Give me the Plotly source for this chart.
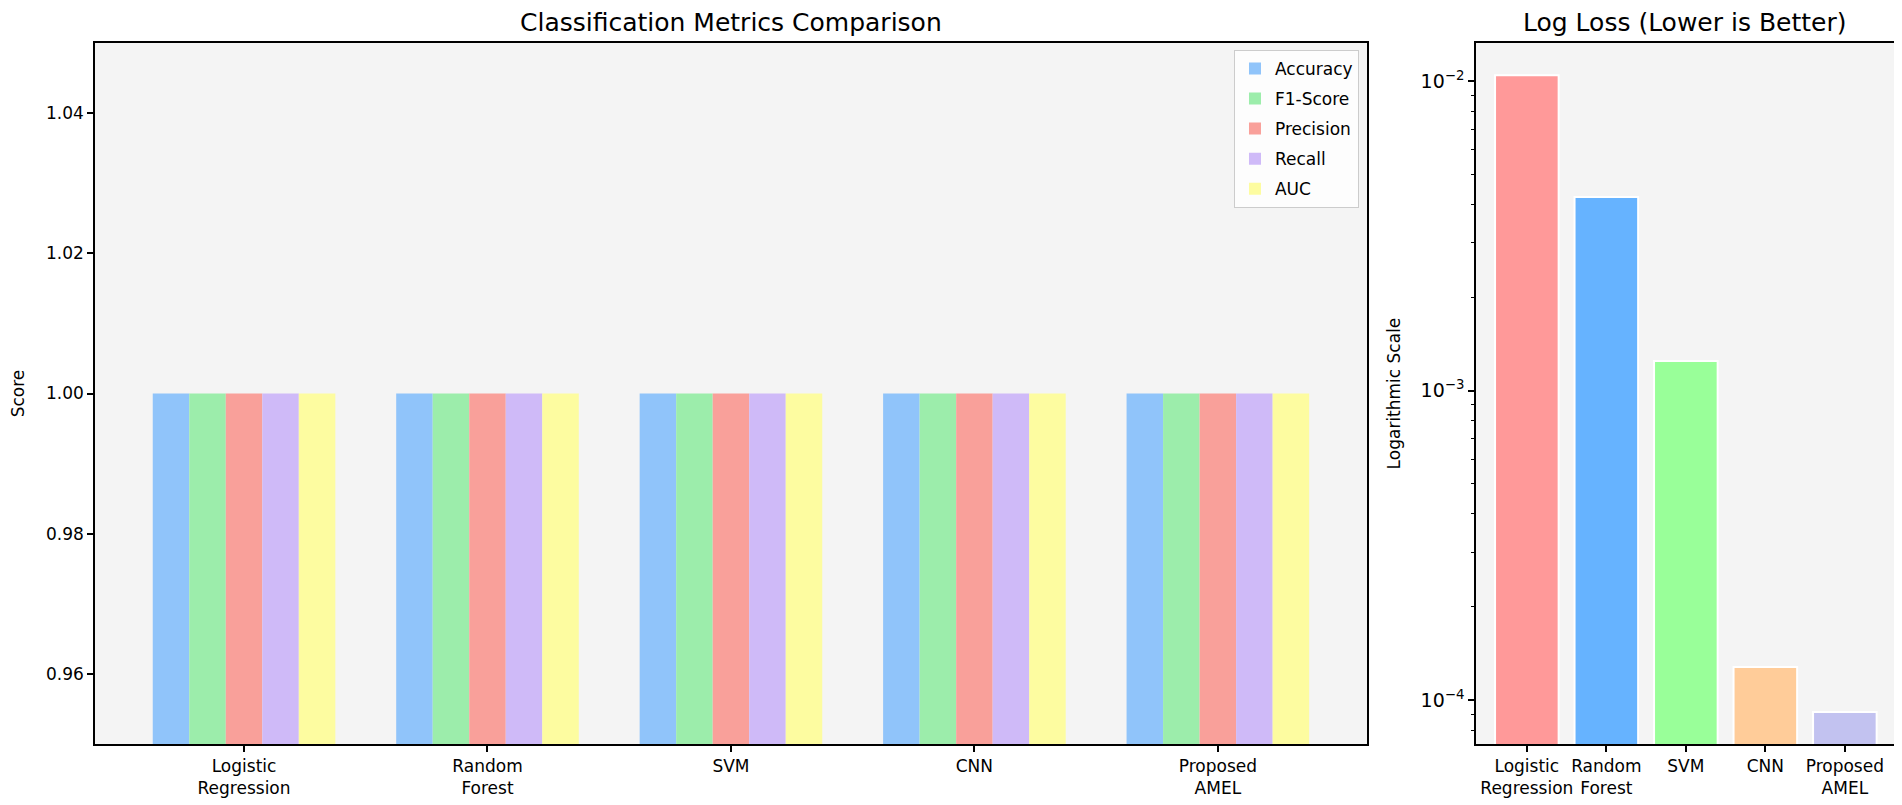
import plotly.graph_objects as go

models = ["Logistic<br>Regression", "Random<br>Forest", "SVM", "CNN", "Proposed<br>AMEL"]
metrics = ["Accuracy", "F1-Score", "Precision", "Recall", "AUC"]
accuracy = [1.0, 1.0, 1.0, 1.0, 1.0]
f1_score = [1.0, 1.0, 1.0, 1.0, 1.0]
precision = [1.0, 1.0, 1.0, 1.0, 1.0]
recall = [1.0, 1.0, 1.0, 1.0, 1.0]
auc = [1.0, 1.0, 1.0, 1.0, 1.0]
log_loss = [0.01045, 0.00422, 0.001245, 0.000128, 0.0000915]

metric_values = [accuracy, f1_score, precision, recall, auc]
metric_colors = ["#90c4fa", "#9cedab", "#f9a09a", "#cfbaf8", "#fdfca0"]
loss_colors = ["#ff9999", "#66b3ff", "#99ff99", "#ffcc99", "#c2c2f0"]

FONT = "DejaVu Sans"
TICK = 17
fig = go.Figure()

for name, vals, col in zip(metrics, metric_values, metric_colors):
    fig.add_trace(go.Bar(
        x=list(range(len(models))), y=vals, name=name, legendgroup=name,
        marker=dict(color=col, line=dict(width=0)),
        xaxis="x", yaxis="y",
    ))

fig.add_trace(go.Bar(
    x=list(range(len(models))), y=log_loss, showlegend=False,
    marker=dict(color=loss_colors, line=dict(color="white", width=2)),
    width=0.8, xaxis="x2", yaxis="y2",
))

axis_common = dict(showline=True, linecolor="black", linewidth=1.5, mirror=True,
                   ticks="outside", ticklen=6, tickwidth=1.5, tickcolor="black",
                   showgrid=False, zeroline=False, automargin=False, tickangle=0)
tf = dict(family=FONT, size=TICK, color="black")

fig.update_layout(
    width=1902, height=805,
    paper_bgcolor="white",
    plot_bgcolor="#f4f4f4",
    margin=dict(l=0, r=0, t=0, b=0),
    barmode="group", bargap=0.25, bargroupgap=0,
    font=dict(family=FONT, size=TICK, color="black"),
    xaxis=dict(domain=[0.0457, 0.7145], anchor="y", range=[-0.6125, 4.6125],
               tickmode="array", tickvals=list(range(5)), ticktext=models,
               tickfont=tf, **axis_common),
    yaxis=dict(domain=[0.0857, 0.9565], anchor="x", range=[0.95, 1.05],
               tickmode="array", tickvals=[0.96, 0.98, 1.00, 1.02, 1.04],
               ticktext=["0.96", "0.98", "1.00", "1.02", "1.04"], tickfont=tf,
               title=dict(text="Score", font=dict(family=FONT, size=TICK), standoff=20),
               **axis_common),
    xaxis2=dict(domain=[0.7718, 0.9925], anchor="y2", range=[-0.64, 4.64],
                tickmode="array", tickvals=list(range(5)), ticktext=models,
                tickfont=tf, **axis_common),
    yaxis2=dict(domain=[0.0857, 0.9565], anchor="x2", type="log",
                range=[-4.142, -1.877],
                tickmode="array", tickvals=[1e-4, 1e-3, 1e-2],
                ticktext=["10<sup>−4</sup>", "10<sup>−3</sup>", "10<sup>−2</sup>"],
                tickfont=dict(family=FONT, size=19, color="black"),
                minor=dict(ticks="outside", ticklen=3.5, tickwidth=1, tickcolor="black",
                           tickvals=[m * 10 ** e for e in (-5, -4, -3) for m in range(2, 10)]),
                title=dict(text="Logarithmic Scale", font=dict(family=FONT, size=TICK), standoff=16),
                **axis_common),
    legend=dict(x=0.7103, y=0.948, xanchor="right", yanchor="top",
                bgcolor="rgba(255,255,255,0.8)", bordercolor="#cccccc", borderwidth=1,
                font=dict(family=FONT, size=TICK), tracegroupgap=5,
                itemwidth=30),
    annotations=[
        dict(text="Classification Metrics Comparison", x=0.3801, y=0.982, xref="paper", yref="paper",
             showarrow=False, xanchor="center", yanchor="middle",
             font=dict(family=FONT, size=25, color="black")),
        dict(text="Log Loss (Lower is Better)", x=0.8815, y=0.982, xref="paper", yref="paper",
             showarrow=False, xanchor="center", yanchor="middle",
             font=dict(family=FONT, size=25, color="black")),
    ],
)

fig.write_html("out.html")
